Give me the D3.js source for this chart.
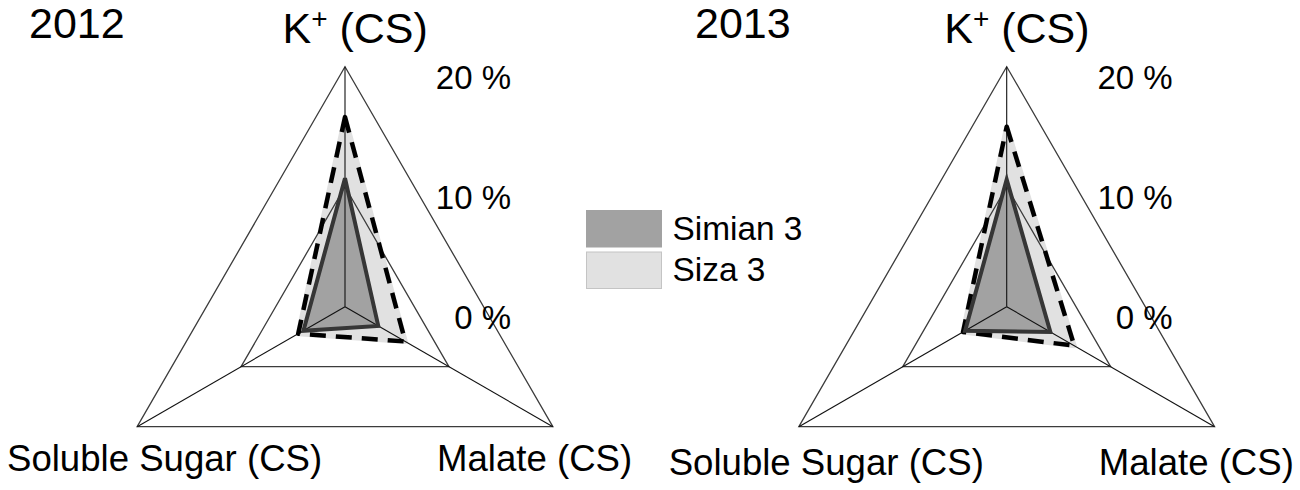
<!DOCTYPE html>
<html>
<head>
<meta charset="utf-8">
<script src="https://cdn.jsdelivr.net/npm/d3@7"></script>
<style>
  html, body { margin: 0; padding: 0; background: #fff; }
  svg { display: block; }
  text { font-family: "Liberation Sans", Arial, sans-serif; fill: #000; }
</style>
</head>
<body>
<svg id="chart" width="1300" height="490"></svg>
<script>
// ---- data ----
const categories = ["K+ (CS)", "Malate (CS)", "Soluble Sugar (CS)"];
const years = ["2012", "2013"];
const seriesNames = ["Simian 3", "Siza 3"];
const simian2012 = [10.7, 3.2, 4.0];
const siza2012   = [15.8, 5.8, 4.5];
const simian2013 = [10.6, 4.2, 4.0];
const siza2013   = [15.0, 6.5, 4.2];
const tickValues = [0, 10, 20];
const tickLabels = ["0 %", "10 %", "20 %"];

// ---- layout ----
const svg = d3.select("#chart");
const R = 240;
const panels = [
  { year: years[0], cx: 345,   cy: 306.7, simian: simian2012, siza: siza2012, labelY: 471, titleX: 29 },
  { year: years[1], cx: 1006.7, cy: 306.7, simian: simian2013, siza: siza2013, labelY: 475, titleX: 695 }
];

const r = d3.scaleLinear().domain([0, 20]).range([0, R]);
const angle = d3.scalePoint().domain(d3.range(categories.length + 1)).range([0, 2 * Math.PI]);

const radial = d3.lineRadial()
  .angle((d, i) => angle(i))
  .radius(d => r(d))
  .curve(d3.curveLinearClosed);

function pt(i, v) {
  const a = angle(i);
  return [Math.sin(a) * r(v), -Math.cos(a) * r(v)];
}

panels.forEach(p => {
  const g = svg.append("g").attr("transform", `translate(${p.cx},${p.cy})`);

  // fills
  g.append("path").attr("d", radial(p.siza)).attr("fill", "#e1e1e1")
    .attr("stroke", "#e1e1e1").attr("stroke-width", 5).attr("stroke-linejoin", "round");
  g.append("path").attr("d", radial(p.simian)).attr("fill", "#a2a2a2").attr("stroke", "none");

  // rings
  tickValues.filter(t => t > 0).forEach(t => {
    g.append("path")
      .attr("d", radial(categories.map(() => t)))
      .attr("fill", "none")
      .attr("stroke", "#3c3c3c")
      .attr("stroke-width", 1.3);
  });

  // spokes
  categories.forEach((c, i) => {
    const [x, y] = pt(i, 20);
    g.append("line")
      .attr("x1", 0).attr("y1", 0).attr("x2", x).attr("y2", y)
      .attr("stroke", "#111").attr("stroke-width", 1.1);
  });

  // outlines
  g.append("path").attr("d", radial(p.siza))
    .attr("fill", "none").attr("stroke", "#000")
    .attr("stroke-width", 4.5).attr("stroke-dasharray", "16,10")
    .attr("stroke-linejoin", "round");
  g.append("path").attr("d", radial(p.simian))
    .attr("fill", "none").attr("stroke", "#363636")
    .attr("stroke-width", 4).attr("stroke-linejoin", "miter");

  // tick labels
  tickValues.forEach((t, i) => {
    g.append("text")
      .attr("x", 166).attr("y", -r(t) + 22.5)
      .attr("text-anchor", "end")
      .attr("font-size", 33)
      .text(tickLabels[i]);
  });

  // title (year)
  svg.append("text")
    .attr("x", p.titleX).attr("y", 37.5)
    .attr("font-size", 43)
    .text(p.year);

  // category labels
  const top = svg.append("text")
    .attr("x", p.cx - 62.5).attr("y", 43.3)
    .attr("font-size", 43);
  const parts = categories[0].split(" ");
  top.append("tspan").text(parts[0].replace("+", ""));
  top.append("tspan").attr("font-size", 28).attr("dy", -15).text("+");
  top.append("tspan").attr("dy", 15).text(" " + parts.slice(1).join(" "));

  svg.append("text")
    .attr("x", p.cx + 92).attr("y", p.labelY)
    .attr("font-size", 36.6)
    .text(categories[1]);
  svg.append("text")
    .attr("x", p.cx - 338).attr("y", p.labelY)
    .attr("font-size", 36.6)
    .text(categories[2]);
});

// legend
const legend = svg.append("g");
const legendColors = ["#a2a2a2", "#e1e1e1"];
const legendStroke = ["#a2a2a2", "#c4c4c4"];
seriesNames.forEach((name, i) => {
  legend.append("rect")
    .attr("x", 586.5).attr("y", 210.5 + i * 41.5)
    .attr("width", 75).attr("height", 36.5)
    .attr("fill", legendColors[i])
    .attr("stroke", legendStroke[i]).attr("stroke-width", 1);
  legend.append("text")
    .attr("x", 672.5).attr("y", 240 + i * 40.5)
    .attr("font-size", 33.4)
    .text(name);
});
</script>
</body>
</html>
